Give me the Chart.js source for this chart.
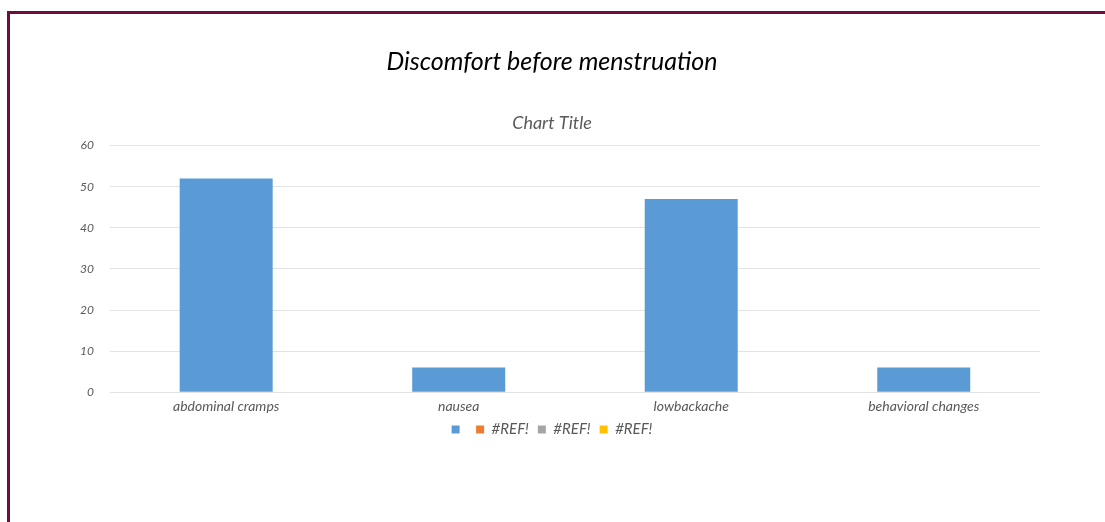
<!DOCTYPE html>
<html>
<head>
<meta charset="utf-8">
<script src="https://cdn.jsdelivr.net/npm/chart.js@4/dist/chart.umd.min.js"></script>
<style>
    body { margin: 0; background: #fff; overflow: hidden; }
    #frame {
        position: absolute; left: 7px; top: 11px; width: 1200px; height: 600px;
        border-top: 3px solid #6e0e3c; border-left: 3px solid #6e0e3c;
    }
    #wrap { position: absolute; left: 0; top: 0; width: 1105px; height: 522px; }
</style>
</head>
<body>
<div id="frame"></div>
<div id="wrap"><canvas id="chart" width="1105" height="522"></canvas></div>
<script>
// Chart data
const categories = ['abdominal cramps', 'nausea', 'lowbackache', 'behavioral changes'];
const seriesValues = [52, 6, 47, 6];
const refLabels = ['#REF!', '#REF!', '#REF!'];
const yTicks = [0, 10, 20, 30, 40, 50, 60];

const handFont = "'Lato', 'DejaVu Sans', sans-serif";

const ctx = document.getElementById('chart').getContext('2d');

new Chart(ctx, {
    type: 'bar',
    data: {
        labels: categories,
        datasets: [
            { label: '', data: seriesValues, backgroundColor: '#5b9bd5' },
            { label: refLabels[0], data: [], backgroundColor: '#ed7d31' },
            { label: refLabels[1], data: [], backgroundColor: '#a5a5a5' },
            { label: refLabels[2], data: [], backgroundColor: '#ffc000' }
        ]
    },
    options: {
        responsive: false,
        animation: false,
        grouped: false,
        categoryPercentage: 1,
        barPercentage: 0.4,
        layout: { padding: { left: 64, right: 65, top: 47, bottom: 75 } },
        plugins: {
            title: {
                display: true,
                text: 'Discomfort before menstruation',
                color: '#000',
                font: { family: handFont, size: 25, style: 'italic', weight: 'normal' },
                padding: { top: 0, bottom: 35 }
            },
            subtitle: {
                display: true,
                text: 'Chart Title',
                color: '#595959',
                font: { family: handFont, size: 18, style: 'italic' },
                padding: { top: 0, bottom: 12 }
            },
            legend: {
                position: 'bottom',
                labels: {
                    boxWidth: 8,
                    boxHeight: 8,
                    padding: 9,
                    color: '#595959',
                    font: { family: handFont, size: 15, style: 'italic' }
                }
            },
            tooltip: { enabled: false }
        },
        scales: {
            x: {
                grid: { display: false },
                border: { display: false },
                ticks: {
                    color: '#595959',
                    padding: -2,
                    font: { family: handFont, size: 14, style: 'italic' }
                }
            },
            y: {
                min: 0,
                max: 60,
                afterBuildTicks: axis => { axis.ticks = yTicks.map(v => ({ value: v })); },
                grid: { color: '#e3e3e3', drawTicks: false },
                border: { display: false },
                ticks: {
                    color: '#595959',
                    padding: 16,
                    font: { family: handFont, size: 12, style: 'italic' }
                }
            }
        }
    }
});
</script>
</body>
</html>
